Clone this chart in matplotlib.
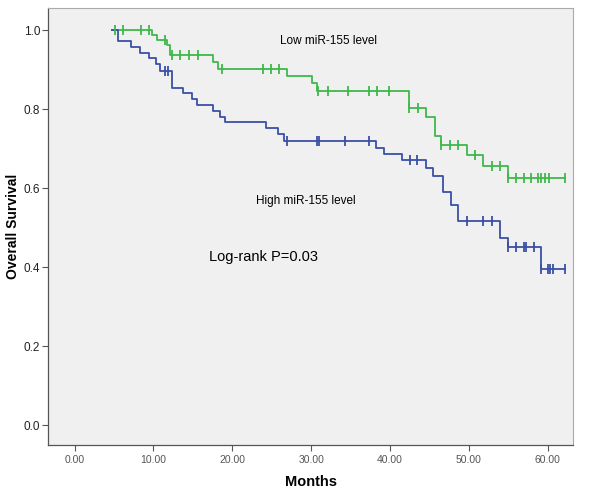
import matplotlib
matplotlib.use("Agg")
import matplotlib.pyplot as plt
import numpy as np

plt.rcParams["font.family"] = ["Liberation Sans", "DejaVu Sans"]

# Low miR-155 group (green): event times and survival after each event
low_start = 4.8
low_end = 62.2
low_times = [9.8, 10.4, 11.7, 12.1, 17.6, 18.2, 26.9, 30.1, 30.7, 42.4,
             44.6, 45.7, 46.5, 49.7, 51.8, 54.9]
low_surv = [0.987, 0.975, 0.962, 0.937, 0.920, 0.901, 0.884, 0.865, 0.846, 0.802,
            0.779, 0.732, 0.709, 0.684, 0.656, 0.626]
low_censor = [5.1, 6.2, 8.4, 9.4, 11.5, 12.4, 13.4, 14.5, 15.6, 18.7, 23.9, 24.9,
              25.9, 30.9, 32.1, 34.7, 37.4, 38.4, 39.9, 42.4, 43.5, 46.5, 47.6,
              48.6, 50.8, 52.9, 53.9, 54.9, 56.0, 57.0, 57.9, 58.7, 59.1, 59.6,
              60.2, 62.2]

# High miR-155 group (blue)
high_start = 4.8
high_end = 62.2
high_times = [5.5, 7.2, 8.3, 9.4, 10.3, 10.8, 12.3, 13.7, 14.9, 15.5, 17.5, 18.4,
              19.1, 24.3, 25.8, 26.5, 38.2, 39.3, 41.5, 44.6, 45.5, 46.7, 47.7,
              48.6, 53.9, 54.9, 59.1]
high_surv = [0.972, 0.958, 0.943, 0.928, 0.914, 0.897, 0.852, 0.840, 0.825, 0.810,
             0.796, 0.781, 0.766, 0.751, 0.738, 0.720, 0.702, 0.686, 0.671, 0.650,
             0.630, 0.591, 0.557, 0.516, 0.474, 0.452, 0.395]
high_censor = [11.5, 11.9, 26.9, 30.7, 31.0, 34.3, 37.3, 42.5, 43.4, 49.7, 51.8,
               52.9, 54.9, 56.0, 57.0, 57.3, 58.2, 59.1, 60.0, 60.3, 60.7, 62.2]

x_ticks = [0, 10, 20, 30, 40, 50, 60]
y_ticks = [0.0, 0.2, 0.4, 0.6, 0.8, 1.0]

GREEN = "#3fb84b"
BLUE = "#3b50a6"


def km_curve(ax, start, end, times, surv, censor, color):
    t = np.array([start] + list(times) + [end])
    s = np.array([1.0] + list(surv) + [surv[-1]])
    ax.step(t, s, where="post", color=color, lw=1.3, zorder=3)
    # survival at censor times (right-continuous step)
    c = np.array(censor)
    idx = np.searchsorted(t, c, side="right") - 1
    ax.plot(c, s[idx], ls="none", marker="|", markersize=6.5, mew=1.3,
            color=color, zorder=4)


fig = plt.figure(figsize=(6.0, 4.94), dpi=100)
ax = fig.add_axes([0.080, 0.099, 0.875, 0.885])
ax.set_facecolor("#f0f0f0")

km_curve(ax, low_start, low_end, low_times, low_surv, low_censor, GREEN)
km_curve(ax, high_start, high_end, high_times, high_surv, high_censor, BLUE)

ax.set_xlim(-3.36, 63.2)
ax.set_ylim(-0.0506, 1.056)
ax.set_xticks(x_ticks)
ax.set_xticklabels([f"{v:.2f}" for v in x_ticks], fontsize=7.5, color="#555555")
ax.set_yticks(y_ticks)
ax.set_yticklabels([f"{v:.1f}" for v in y_ticks], fontsize=8.5, color="#222222")
ax.tick_params(axis="x", direction="out", length=4, width=0.8, color="#555555", pad=3)
ax.tick_params(axis="y", direction="out", length=4, width=0.8, color="#555555", pad=1.5)

for side in ["top", "right"]:
    ax.spines[side].set_color("#aaaaaa")
    ax.spines[side].set_linewidth(0.8)
for side in ["left", "bottom"]:
    ax.spines[side].set_color("#555555")
    ax.spines[side].set_linewidth(0.9)

ax.set_xlabel("Months", fontsize=10.5, fontweight="bold", labelpad=7)
ax.set_ylabel("Overall Survival", fontsize=10, fontweight="bold", labelpad=3)

ax.text(26.0, 0.973, "Low miR-155 level", fontsize=8.5, va="center", ha="left")
ax.text(23.0, 0.568, "High miR-155 level", fontsize=8.5, va="center", ha="left")
ax.text(17.0, 0.426, "Log-rank P=0.03", fontsize=10.5, va="center", ha="left")

fig.savefig("out.png", dpi=100)
